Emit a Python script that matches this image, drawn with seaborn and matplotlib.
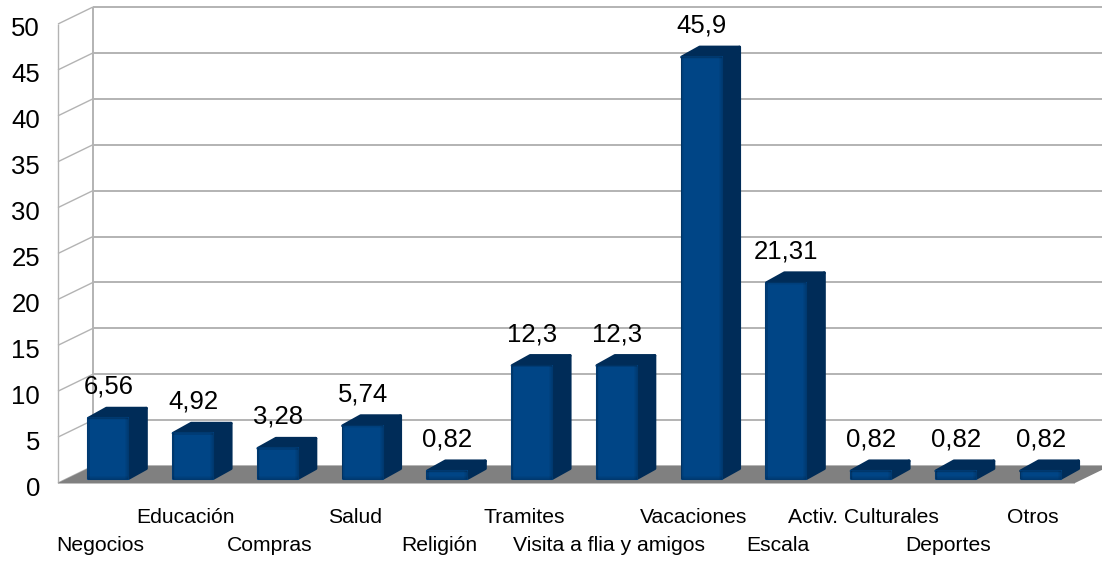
import matplotlib
matplotlib.use("Agg")
import matplotlib.pyplot as plt
import seaborn as sns
from matplotlib.patches import Polygon, Rectangle
from matplotlib.transforms import Affine2D, IdentityTransform

categorias = ["Negocios", "Educación", "Compras", "Salud", "Religión", "Tramites",
              "Visita a flia y amigos", "Vacaciones", "Escala", "Activ. Culturales",
              "Deportes", "Otros"]
valores = [6.56, 4.92, 3.28, 5.74, 0.82, 12.3, 12.3, 45.9, 21.31, 0.82, 0.82, 0.82]
etiquetas = ["6,56", "4,92", "3,28", "5,74", "0,82", "12,3", "12,3", "45,9", "21,31",
             "0,82", "0,82", "0,82"]
marcas_y = list(range(0, 51, 5))

AZUL = "#004586"
AZUL_OSCURO = "#002c58"
GRIS = "#b3b3b3"
PISO = "#808080"

sns.set_theme(style="white")
plt.rcParams["font.family"] = ["Liberation Sans", "DejaVu Sans"]

W, H = 1102, 561
fig = plt.figure(figsize=(W / 100, H / 100), dpi=100)
# el axes es el plano frontal del grafico 3D
ax = fig.add_axes([58 / W, (H - 483) / H, (1075 - 58) / W, (483 - 24) / H])

sns.barplot(x=categorias, y=valores, color=AZUL, saturation=1, width=0.47, ax=ax, zorder=4)
ax.set_xlim(-0.5, 11.5)
ax.set_ylim(0, 50)
sns.despine(ax=ax, left=True, bottom=True)
ax.patch.set_visible(False)

ax.set_yticks(marcas_y)
ax.set_yticklabels([str(m) for m in marcas_y], fontsize=18.5, color="black")
ax.tick_params(axis="y", length=0, pad=13)
for lab in ax.get_yticklabels():
    lab.set_transform(lab.get_transform() + Affine2D().translate(0, -3))
ax.tick_params(axis="x", length=0, labelsize=15.2, labelcolor="black")
ax.set_xticks(range(len(categorias)))
ax.set_xticklabels(categorias)
ax.set_xlabel("")
# etiquetas del eje x en dos filas, como en el original
filas = [1, 0, 1, 0, 1, 0, 1, 0, 1, 0, 1, 0]
for tick, fila in zip(ax.xaxis.get_major_ticks(), filas):
    tick.set_pad(18 + fila * 20)

PROF_X, PROF_Y = 35, 17  # profundidad de la pared, en pixeles
BAR_DX, BAR_DY = 8, 4.5  # corrimiento de las barras sobre el piso
LADO_X, LADO_Y = 18, 10  # profundidad de cada barra


def px(x, y):
    return ax.transData.transform((x, y))


def poligono(puntos, color, z):
    ax.add_patch(Polygon(puntos, closed=True, facecolor=color, edgecolor=color, lw=2.2,
                         joinstyle="round", transform=IdentityTransform(), clip_on=False,
                         zorder=z))


def linea(p, q, ancho=1.4):
    ax.plot([p[0], q[0]], [p[1], q[1]], color=GRIS, lw=ancho, transform=IdentityTransform(),
            clip_on=False, zorder=1, solid_capstyle="butt", scalex=False, scaley=False)


# paredes y grilla
for m in marcas_y:
    a = px(-0.5, m)
    b = a + (PROF_X, PROF_Y)
    linea(a, b, 1.0)
    linea(b, (W + 5, b[1]), 1.4)
linea(px(-0.5, 0), px(-0.5, 50), 1.0)
linea(px(-0.5, 0) + (PROF_X, PROF_Y), px(-0.5, 50) + (PROF_X, PROF_Y), 1.4)

# piso
p0 = px(-0.5, 0)
p1 = px(11.5, 0)
ax.add_patch(Polygon([p0, p1, p1 + (PROF_X, PROF_Y), p0 + (PROF_X, PROF_Y)], closed=True,
                     facecolor=PISO, edgecolor="none", transform=IdentityTransform(),
                     clip_on=False, zorder=2))
linea(p0, p1, 1.2)

# caras de las barras
for barra, valor, etiqueta, i in zip(ax.patches, valores, etiquetas, range(len(valores))):
    barra.set_transform(ax.transData + Affine2D().translate(BAR_DX, BAR_DY))
    barra.set_edgecolor(AZUL)
    barra.set_linewidth(1.5)
    barra.set_joinstyle("round")

    izq = px(barra.get_x(), 0) + (BAR_DX, BAR_DY)
    der = px(barra.get_x() + barra.get_width(), 0) + (BAR_DX, BAR_DY)
    sup_izq = px(barra.get_x(), valor) + (BAR_DX, BAR_DY)
    sup_der = px(barra.get_x() + barra.get_width(), valor) + (BAR_DX, BAR_DY)
    d = (LADO_X, LADO_Y)
    poligono([der, der + d, sup_der + d, sup_der], AZUL_OSCURO, 3)
    poligono([sup_izq, sup_izq + d, sup_der + d, sup_der], AZUL_OSCURO, 3)

    # sombreado suave en los bordes de la cara frontal
    ancho = der[0] - izq[0]
    alto = sup_izq[1] - izq[1]
    for k in range(4):
        for r in [(der[0] - k, izq[1], 1, alto), (izq[0], izq[1] + k * 0.8 - 1, ancho, 1),
                  (izq[0] + k * 0.6 - 1, izq[1], 1, alto), (izq[0], sup_izq[1] - k * 0.6, ancho, 1)]:
            ax.add_patch(Rectangle((r[0], r[1]), r[2], r[3], facecolor="black", edgecolor="none",
                                   alpha=0.16 - k * 0.04, transform=IdentityTransform(),
                                   clip_on=False, zorder=5))

    ax.annotate(etiqueta, xy=(i, valor), xytext=(BAR_DX * 0.72, 36 * 0.72),
                textcoords="offset points", ha="center", va="center", fontsize=18.5,
                color="black", annotation_clip=False, zorder=6)

plt.savefig("out.png", dpi=100)
plt.close()
